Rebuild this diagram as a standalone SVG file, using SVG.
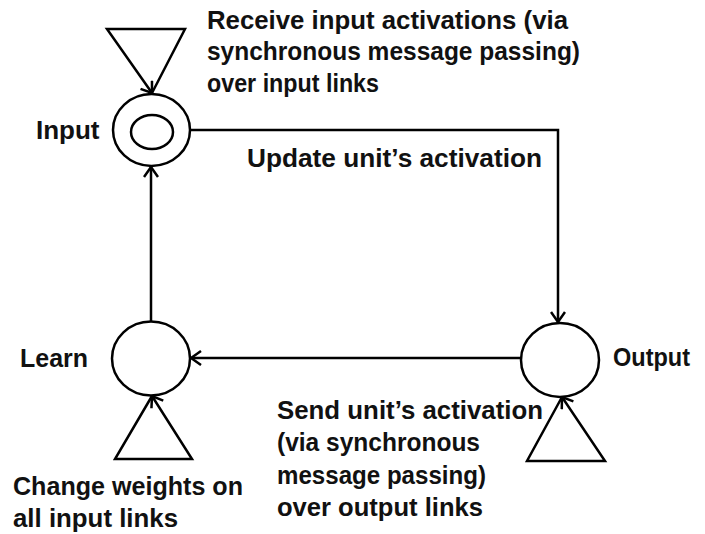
<svg xmlns="http://www.w3.org/2000/svg" width="705" height="534" viewBox="0 0 705 534">
<defs>
<marker id="arr" viewBox="0 0 12 16" refX="11" refY="8" markerWidth="12" markerHeight="16" markerUnits="userSpaceOnUse" orient="auto">
<path d="M1,1 L11,8 L1,15" fill="none" stroke="#000" stroke-width="2.5"/>
</marker>
<style>
.n{fill:#fff;stroke:#000;stroke-width:2.5}
.c{fill:none;stroke:#000;stroke-width:2.5;marker-end:url(#arr)}
text{font-family:"Liberation Sans",Arial,sans-serif;font-weight:bold;font-size:26px;fill:#111}
</style>
</defs>
<rect width="705" height="534" fill="#fff"/>
<g id="connectors">
<path class="c" d="M152,93 L185,29 L107,29 L152,93"/>
<path class="c" d="M190,130 L558,130 L558,322"/>
<path class="c" d="M521,358 L191,358"/>
<path class="c" d="M151,321 L151,167"/>
<path class="c" d="M152,396 L115,459 L192,459 L152,396"/>
<path class="c" d="M562,397 L527,461 L605,461 L562,397"/>
</g>
<g id="input">
<ellipse class="n" cx="151.5" cy="130" rx="38.5" ry="36"/>
<ellipse class="n" cx="152" cy="132" rx="21" ry="17"/>
<text x="36" y="139">Input</text>
</g>
<g id="learn">
<ellipse class="n" cx="151" cy="358.5" rx="39" ry="37"/>
<text x="20" y="367" textLength="68" lengthAdjust="spacingAndGlyphs">Learn</text>
</g>
<g id="output">
<ellipse class="n" cx="560" cy="360" rx="39" ry="37"/>
<text x="613" y="366" textLength="77" lengthAdjust="spacingAndGlyphs">Output</text>
</g>
<g id="labels">
<text x="207" y="29" textLength="361" lengthAdjust="spacingAndGlyphs">Receive input activations (via</text>
<text x="207" y="60" textLength="373" lengthAdjust="spacingAndGlyphs">synchronous message passing)</text>
<text x="207" y="92" textLength="172" lengthAdjust="spacingAndGlyphs">over input links</text>
<text x="247" y="167" textLength="295" lengthAdjust="spacingAndGlyphs">Update unit’s activation</text>
<text x="277" y="419" textLength="266" lengthAdjust="spacingAndGlyphs">Send unit’s activation</text>
<text x="277" y="451" textLength="203" lengthAdjust="spacingAndGlyphs">(via synchronous</text>
<text x="277" y="484" textLength="209" lengthAdjust="spacingAndGlyphs">message passing)</text>
<text x="277" y="516" textLength="206" lengthAdjust="spacingAndGlyphs">over output links</text>
<text x="13" y="495" textLength="230" lengthAdjust="spacingAndGlyphs">Change weights on</text>
<text x="13" y="527" textLength="165" lengthAdjust="spacingAndGlyphs">all input links</text>
</g>
</svg>
